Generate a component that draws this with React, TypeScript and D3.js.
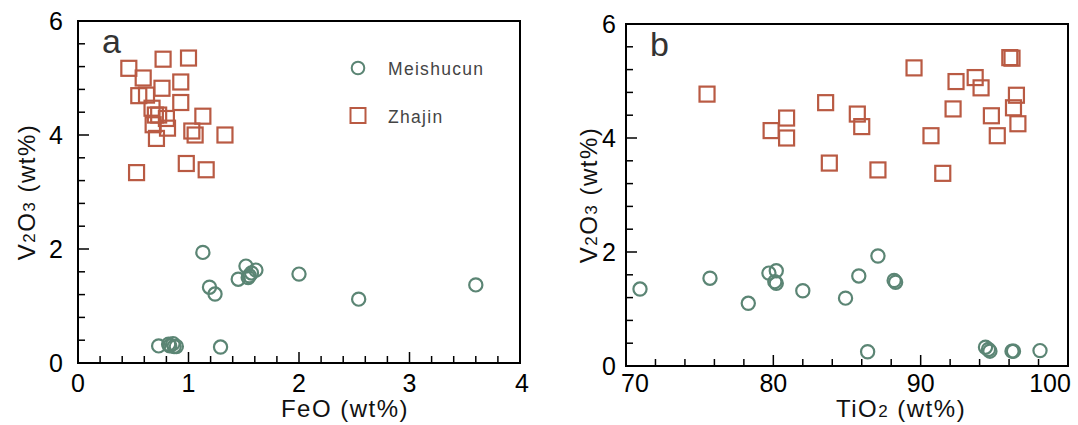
import React, { useEffect, useRef } from "react";
import * as d3 from "d3";

// panel a: FeO vs V2O3
const feoMeishucun = [1.13, 1.19, 1.24, 1.52, 1.45, 1.54, 1.55, 1.57, 1.61, 2.0, 2.54, 3.6, 0.73, 0.82, 0.83, 0.86, 0.87, 0.89, 1.29];
const v2o3MeishucunA = [1.94, 1.33, 1.21, 1.7, 1.47, 1.5, 1.53, 1.58, 1.63, 1.56, 1.12, 1.37, 0.3, 0.33, 0.3, 0.34, 0.29, 0.29, 0.28];
const feoZhajin = [0.46, 0.77, 1.0, 0.59, 0.93, 0.76, 0.55, 0.62, 0.67, 0.93, 0.7, 0.73, 0.8, 1.13, 0.68, 0.81, 1.03, 1.06, 1.33, 0.71, 0.98, 1.16, 0.53];
const v2o3ZhajinA = [5.17, 5.33, 5.35, 5.0, 4.93, 4.82, 4.69, 4.7, 4.47, 4.57, 4.35, 4.35, 4.29, 4.33, 4.18, 4.12, 4.07, 4.0, 4.0, 3.94, 3.5, 3.39, 3.34];

// panel b: TiO2 vs V2O3
const tio2Meishucun = [70.95, 75.7, 78.3, 79.7, 80.2, 80.1, 80.2, 82.0, 84.9, 85.8, 87.1, 88.2, 88.3, 86.4, 94.4, 94.6, 94.7, 96.2, 96.3, 98.1];
const v2o3MeishucunB = [1.35, 1.54, 1.1, 1.63, 1.67, 1.48, 1.45, 1.32, 1.19, 1.58, 1.93, 1.5, 1.47, 0.25, 0.33, 0.29, 0.26, 0.26, 0.26, 0.27];
const tio2Zhajin = [75.5, 79.85, 80.9, 80.9, 83.55, 83.8, 85.7, 86.0, 87.1, 89.55, 92.4, 93.7, 94.1, 92.2, 90.7, 91.5, 96.05, 96.2, 96.5, 96.3, 94.8, 96.6, 95.2];
const v2o3ZhajinB = [4.77, 4.13, 4.35, 4.0, 4.62, 3.56, 4.42, 4.2, 3.44, 5.23, 4.99, 5.06, 4.88, 4.51, 4.04, 3.38, 5.41, 5.4, 4.75, 4.53, 4.39, 4.25, 4.04];

const yMajor = [0, 2, 4, 6];
const feoMajor = [0, 1, 2, 3, 4];
const tio2Major = [70, 80, 90, 100];
const seriesNames = ["Meishucun", "Zhajin"];

const green = "#5b8574";
const red = "#b95a43";
const font = "'Liberation Sans', Arial, sans-serif";

const App = () => {
  const svgRef = useRef<SVGSVGElement>(null);

  useEffect(() => {
    const svg = d3.select(svgRef.current);
    svg.selectAll("*").remove();

    const drawPanel = (opts: any) => {
      const { left, right, top, bottom, xDomain, xStep, xMajor, letter, xLabel, xSub, xM, yM, xZ, yZ, labelGap, yLabelX, xLabelShift, firstShift, lastShift } = opts;
      const x = d3.scaleLinear().domain(xDomain).range([left, right]);
      const y = d3.scaleLinear().domain([0, 6]).range([bottom, top]);
      const g = svg.append("g");

      // minor + major ticks (inward)
      const xTicks = d3.range(xDomain[0], xDomain[1] + xStep / 2, xStep);
      g.selectAll(".xt")
        .data(xTicks)
        .enter()
        .append("line")
        .attr("x1", (d) => x(d))
        .attr("x2", (d) => x(d))
        .attr("y1", bottom)
        .attr("y2", (d) => bottom - (xMajor.some((m: number) => Math.abs(m - d) < 1e-6) ? 11 : 7))
        .attr("stroke", "#000")
        .attr("stroke-width", 1.5);

      const yTicks = d3.range(0, 6.2, 0.4);
      g.selectAll(".yt")
        .data(yTicks)
        .enter()
        .append("line")
        .attr("y1", (d) => y(d))
        .attr("y2", (d) => y(d))
        .attr("x1", left)
        .attr("x2", (d) => left + (yMajor.some((m) => Math.abs(m - d) < 1e-6) ? 11 : 7))
        .attr("stroke", "#000")
        .attr("stroke-width", 1.5);

      g.append("rect")
        .attr("x", left)
        .attr("y", top)
        .attr("width", right - left)
        .attr("height", bottom - top)
        .attr("fill", "none")
        .attr("stroke", "#000")
        .attr("stroke-width", 2);

      // tick labels
      g.selectAll(".xl")
        .data(xMajor)
        .enter()
        .append("text")
        .attr("x", (d: number, i: number) =>
          x(d) + (i === 0 ? firstShift : i === xMajor.length - 1 ? lastShift : 0))
        .attr("y", 392)
        .attr("text-anchor", "middle")
        .style("font-family", font)
        .style("font-size", "25px")
        .text((d: number) => d);

      g.selectAll(".yl")
        .data(yMajor)
        .enter()
        .append("text")
        .attr("x", left - labelGap)
        .attr("y", (d) => y(d))
        .attr("dy", "0.36em")
        .attr("text-anchor", "end")
        .style("font-family", font)
        .style("font-size", "25px")
        .text((d) => d);

      // axis titles
      const yt = g
        .append("text")
        .attr("transform", `translate(${yLabelX},${(top + bottom) / 2}) rotate(-90)`)
        .attr("text-anchor", "middle")
        .style("font-family", font)
        .style("font-size", "24px")
        .style("letter-spacing", "1.5px")
        .style("fill", "#111");
      yt.append("tspan").text("V");
      yt.append("tspan").text("2").style("font-size", "17px");
      yt.append("tspan").text("O");
      yt.append("tspan").text("3").style("font-size", "17px");
      yt.append("tspan").text(" (wt%)");

      const xt = g
        .append("text")
        .attr("x", (left + right) / 2 + xLabelShift)
        .attr("y", 417)
        .attr("text-anchor", "middle")
        .style("font-family", font)
        .style("font-size", "24px")
        .style("letter-spacing", "1.5px")
        .style("fill", "#111");
      xt.append("tspan").text(xLabel);
      if (xSub) xt.append("tspan").text(xSub).style("font-size", "17px");
      xt.append("tspan").text(" (wt%)");

      g.append("text")
        .attr("x", left + 24)
        .attr("y", top + 32)
        .style("font-family", font)
        .style("font-size", "34px")
        .style("fill", "#333")
        .text(letter);

      // points
      g.selectAll(".m")
        .data(xM.map((v: number, i: number) => [v, yM[i]]))
        .enter()
        .append("circle")
        .attr("cx", (d: number[]) => x(d[0]))
        .attr("cy", (d: number[]) => y(d[1]))
        .attr("r", 6.6)
        .attr("fill", "none")
        .attr("stroke", green)
        .attr("stroke-width", 2.2);

      g.selectAll(".z")
        .data(xZ.map((v: number, i: number) => [v, yZ[i]]))
        .enter()
        .append("rect")
        .attr("x", (d: number[]) => x(d[0]) - 7.5)
        .attr("y", (d: number[]) => y(d[1]) - 7.5)
        .attr("width", 15)
        .attr("height", 15)
        .attr("fill", "none")
        .attr("stroke", red)
        .attr("stroke-width", 2.2);
    };

    drawPanel({
      left: 78, right: 520, top: 21, bottom: 363,
      xDomain: [0, 4], xStep: 0.2, xMajor: feoMajor, letter: "a",
      xLabel: "FeO", xSub: "", xM: feoMeishucun, yM: v2o3MeishucunA, xZ: feoZhajin, yZ: v2o3ZhajinA,
      labelGap: 15, yLabelX: 35, xLabelShift: 46, firstShift: 0, lastShift: 2,
    });
    drawPanel({
      left: 626, right: 1068, top: 24, bottom: 366,
      xDomain: [70, 100], xStep: 2, xMajor: tio2Major, letter: "b",
      xLabel: "TiO", xSub: "2", xM: tio2Meishucun, yM: v2o3MeishucunB, xZ: tio2Zhajin, yZ: v2o3ZhajinB,
      labelGap: 10, yLabelX: 597, xLabelShift: 54, firstShift: 9, lastShift: -18,
    });

    // legend
    const legend = svg.append("g").attr("transform", "translate(358,68)");
    legend.append("circle").attr("r", 6.3).attr("fill", "none").attr("stroke", green).attr("stroke-width", 2);
    legend.append("rect").attr("x", -7.5).attr("y", 40).attr("width", 15).attr("height", 15)
      .attr("fill", "none").attr("stroke", red).attr("stroke-width", 2);
    legend.selectAll(".lt")
      .data(seriesNames)
      .enter()
      .append("text")
      .attr("x", 30)
      .attr("y", (d, i) => 7 + i * 48)
      .style("font-family", font)
      .style("font-size", "17.5px")
      .style("letter-spacing", "1.3px")
      .style("fill", "#444")
      .text((d) => d);
  }, []);

  return (
    <svg
      ref={svgRef}
      width={1078}
      height={425}
      style={{ position: "absolute", left: 0, top: 0, background: "#fff" }}
    ></svg>
  );
};

export default App;
